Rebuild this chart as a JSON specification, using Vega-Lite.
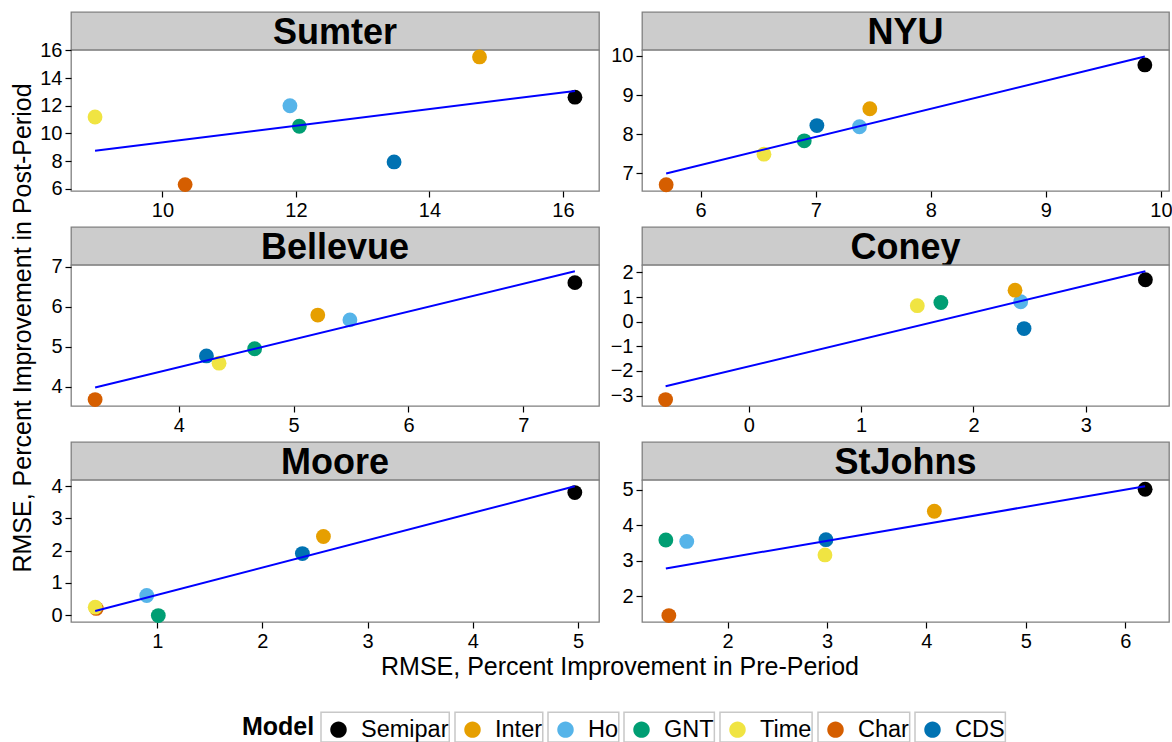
{
  "$schema": "https://vega.github.io/schema/vega-lite/v6.json",
  "background": "white",
  "padding": {"left": 10, "top": 11, "right": 2, "bottom": 0},
  "datasets": {
    "sites": [
      {"site": "Sumter"}, {"site": "NYU"}, {"site": "Bellevue"},
      {"site": "Coney"}, {"site": "Moore"}, {"site": "StJohns"}
    ],
    "titles": [
      {"axis": "y", "label": "RMSE, Percent Improvement in Post-Period"},
      {"axis": "x", "label": "RMSE, Percent Improvement in Pre-Period"}
    ],
    "scores": [
      {"site": "Sumter", "model": "CDS", "pre": 13.47, "post": 7.95},
      {"site": "Sumter", "model": "Char", "pre": 10.34, "post": 6.31},
      {"site": "Sumter", "model": "GNT", "pre": 12.05, "post": 10.52},
      {"site": "Sumter", "model": "Ho", "pre": 11.91, "post": 12.0},
      {"site": "Sumter", "model": "Inter", "pre": 14.75, "post": 15.52},
      {"site": "Sumter", "model": "Semipar", "pre": 16.18, "post": 12.62},
      {"site": "Sumter", "model": "Time", "pre": 8.99, "post": 11.19},
      {"site": "NYU", "model": "CDS", "pre": 7.01, "post": 8.22},
      {"site": "NYU", "model": "Char", "pre": 5.7, "post": 6.71},
      {"site": "NYU", "model": "GNT", "pre": 6.9, "post": 7.83},
      {"site": "NYU", "model": "Ho", "pre": 7.38, "post": 8.19},
      {"site": "NYU", "model": "Inter", "pre": 7.47, "post": 8.65},
      {"site": "NYU", "model": "Semipar", "pre": 9.86, "post": 9.77},
      {"site": "NYU", "model": "Time", "pre": 6.55, "post": 7.49},
      {"site": "Bellevue", "model": "CDS", "pre": 4.24, "post": 4.77},
      {"site": "Bellevue", "model": "Char", "pre": 3.27, "post": 3.68},
      {"site": "Bellevue", "model": "GNT", "pre": 4.66, "post": 4.95},
      {"site": "Bellevue", "model": "Ho", "pre": 5.49, "post": 5.67},
      {"site": "Bellevue", "model": "Inter", "pre": 5.21, "post": 5.79},
      {"site": "Bellevue", "model": "Semipar", "pre": 7.45, "post": 6.6},
      {"site": "Bellevue", "model": "Time", "pre": 4.35, "post": 4.59},
      {"site": "Coney", "model": "CDS", "pre": 2.45, "post": -0.28},
      {"site": "Coney", "model": "Char", "pre": -0.74, "post": -3.16},
      {"site": "Coney", "model": "GNT", "pre": 1.71, "post": 0.78},
      {"site": "Coney", "model": "Ho", "pre": 2.42, "post": 0.81},
      {"site": "Coney", "model": "Inter", "pre": 2.37, "post": 1.28},
      {"site": "Coney", "model": "Semipar", "pre": 3.53, "post": 1.7},
      {"site": "Coney", "model": "Time", "pre": 1.5, "post": 0.65},
      {"site": "Moore", "model": "CDS", "pre": 2.38, "post": 1.91},
      {"site": "Moore", "model": "Char", "pre": 0.42, "post": 0.21},
      {"site": "Moore", "model": "GNT", "pre": 1.01, "post": -0.01},
      {"site": "Moore", "model": "Ho", "pre": 0.9, "post": 0.61},
      {"site": "Moore", "model": "Inter", "pre": 2.58, "post": 2.44},
      {"site": "Moore", "model": "Semipar", "pre": 4.97, "post": 3.8},
      {"site": "Moore", "model": "Time", "pre": 0.41, "post": 0.25},
      {"site": "StJohns", "model": "CDS", "pre": 2.99, "post": 3.6},
      {"site": "StJohns", "model": "Char", "pre": 1.41, "post": 1.46},
      {"site": "StJohns", "model": "GNT", "pre": 1.38, "post": 3.59},
      {"site": "StJohns", "model": "Ho", "pre": 1.59, "post": 3.55},
      {"site": "StJohns", "model": "Inter", "pre": 4.08, "post": 4.4},
      {"site": "StJohns", "model": "Semipar", "pre": 6.2, "post": 5.02},
      {"site": "StJohns", "model": "Time", "pre": 2.98, "post": 3.17}
    ]
  },
  "config": {
    "font": "Liberation Sans",
    "axis": {
      "labelFont": "Liberation Sans", "labelFontSize": 20, "labelColor": "#000000",
      "tickColor": "#000000", "tickSize": 6, "tickWidth": 1.2, "labelPadding": 3,
      "domain": false, "grid": false, "title": null
    }
  },
  "spacing": 2,
  "hconcat": [
    {
      "width": 24, "height": 632,
      "view": {"stroke": null},
      "data": {"name": "titles"},
      "transform": [{"filter": "datum.axis === 'y'"}],
      "mark": {"type": "text", "font": "Liberation Sans", "fontSize": 25, "color": "#000000", "angle": 270, "baseline": "middle", "align": "center"},
      "encoding": {"text": {"field": "label", "type": "nominal"}}
    },
    {
      "spacing": 0,
      "vconcat": [
        {
          "columns": 2,
          "spacing": {"row": 5, "column": 9},
          "concat": [
            {
              "spacing": 0,
              "bounds": "flush",
              "vconcat": [
                {
                  "width": 528, "height": 38,
                  "view": {"fill": "#CCCCCC", "stroke": "#7F7F7F", "strokeWidth": 1.3},
                  "data": {"name": "sites"},
                  "transform": [{"filter": "datum.site === 'Sumter'"}],
                  "mark": {"type": "text", "font": "Liberation Sans", "fontSize": 36, "fontWeight": "bold", "color": "#000000", "baseline": "middle", "dy": 2},
                  "encoding": {"text": {"field": "site", "type": "nominal"}}
                },
                {
                  "width": 528, "height": 141,
                  "view": {"fill": "white", "stroke": "#7F7F7F", "strokeWidth": 1.3},
                  "data": {"name": "scores"},
                  "transform": [{"filter": "datum.site === 'Sumter'"}],
                  "encoding": {
                    "x": {"field": "pre", "type": "quantitative", "scale": {"domain": [8.63, 16.54], "nice": false, "zero": false}, "axis": {"values": [10, 12, 14, 16]}},
                    "y": {"field": "post", "type": "quantitative", "scale": {"domain": [5.85, 16.02], "nice": false, "zero": false}, "axis": {"values": [6, 8, 10, 12, 14, 16]}}
                  },
                  "layer": [
                    {
                      "mark": {"type": "circle", "size": 220, "opacity": 1},
                      "encoding": {
                        "color": {
                          "field": "model", "type": "nominal",
                          "scale": {"domain": ["Semipar", "Inter", "Ho", "GNT", "Time", "Char", "CDS"], "range": ["#000000", "#E69F00", "#56B4E9", "#009E73", "#F0E442", "#D55E00", "#0072B2"]},
                          "legend": {
                            "title": "Model", "orient": "none", "legendX": 231, "legendY": 700, "direction": "horizontal",
                            "titleOrient": "left", "titleFont": "Liberation Sans", "titleFontSize": 25, "titleFontWeight": "bold", "titleColor": "#000000", "titlePadding": 6, "titleBaseline": "middle",
                            "symbolType": "M-0.47,0A0.47,0.47,0,1,0,0.47,0A0.47,0.47,0,1,0,-0.47,0Z",
                            "symbolSize": 1225, "symbolStrokeWidth": 0, "symbolOpacity": 1,
                            "labelFont": "Liberation Sans", "labelFontSize": 23.5, "labelColor": "#000000", "labelOffset": 5, "columnPadding": 5, "labelLimit": 300,
                            "encode": {"entries": {"update": {"width": {"value": 35}, "height": {"value": 35}, "stroke": {"value": "#C8C8C8"}, "strokeWidth": {"value": 1.5}}}}
                          }
                        }
                      }
                    },
                    {
                      "transform": [{"regression": "post", "on": "pre"}],
                      "mark": {"type": "line", "color": "#0000FF", "strokeWidth": 2},
                      "encoding": {}
                    }
                  ]
                }
              ]
            },
            {
              "spacing": 0,
              "bounds": "flush",
              "vconcat": [
                {
                  "width": 527, "height": 38,
                  "view": {"fill": "#CCCCCC", "stroke": "#7F7F7F", "strokeWidth": 1.3},
                  "data": {"name": "sites"},
                  "transform": [{"filter": "datum.site === 'NYU'"}],
                  "mark": {"type": "text", "font": "Liberation Sans", "fontSize": 36, "fontWeight": "bold", "color": "#000000", "baseline": "middle", "dy": 2},
                  "encoding": {"text": {"field": "site", "type": "nominal"}}
                },
                {
                  "width": 527, "height": 141,
                  "view": {"fill": "white", "stroke": "#7F7F7F", "strokeWidth": 1.3},
                  "data": {"name": "scores"},
                  "transform": [{"filter": "datum.site === 'NYU'"}],
                  "encoding": {
                    "x": {"field": "pre", "type": "quantitative", "scale": {"domain": [5.49, 10.07], "nice": false, "zero": false}, "axis": {"values": [6, 7, 8, 9, 10]}},
                    "y": {"field": "post", "type": "quantitative", "scale": {"domain": [6.55, 10.15], "nice": false, "zero": false}, "axis": {"values": [7, 8, 9, 10]}}
                  },
                  "layer": [
                    {
                      "mark": {"type": "circle", "size": 220, "opacity": 1},
                      "encoding": {
                        "color": {
                          "field": "model", "type": "nominal",
                          "scale": {"domain": ["Semipar", "Inter", "Ho", "GNT", "Time", "Char", "CDS"], "range": ["#000000", "#E69F00", "#56B4E9", "#009E73", "#F0E442", "#D55E00", "#0072B2"]}
                        }
                      }
                    },
                    {
                      "transform": [{"regression": "post", "on": "pre"}],
                      "mark": {"type": "line", "color": "#0000FF", "strokeWidth": 2},
                      "encoding": {}
                    }
                  ]
                }
              ]
            },
            {
              "spacing": 0,
              "bounds": "flush",
              "vconcat": [
                {
                  "width": 528, "height": 38,
                  "view": {"fill": "#CCCCCC", "stroke": "#7F7F7F", "strokeWidth": 1.3},
                  "data": {"name": "sites"},
                  "transform": [{"filter": "datum.site === 'Bellevue'"}],
                  "mark": {"type": "text", "font": "Liberation Sans", "fontSize": 36, "fontWeight": "bold", "color": "#000000", "baseline": "middle", "dy": 2},
                  "encoding": {"text": {"field": "site", "type": "nominal"}}
                },
                {
                  "width": 528, "height": 141,
                  "view": {"fill": "white", "stroke": "#7F7F7F", "strokeWidth": 1.3},
                  "data": {"name": "scores"},
                  "transform": [{"filter": "datum.site === 'Bellevue'"}],
                  "encoding": {
                    "x": {"field": "pre", "type": "quantitative", "scale": {"domain": [3.06, 7.66], "nice": false, "zero": false}, "axis": {"values": [4, 5, 6, 7]}},
                    "y": {"field": "post", "type": "quantitative", "scale": {"domain": [3.52, 7.04], "nice": false, "zero": false}, "axis": {"values": [4, 5, 6, 7]}}
                  },
                  "layer": [
                    {
                      "mark": {"type": "circle", "size": 220, "opacity": 1},
                      "encoding": {
                        "color": {
                          "field": "model", "type": "nominal",
                          "scale": {"domain": ["Semipar", "Inter", "Ho", "GNT", "Time", "Char", "CDS"], "range": ["#000000", "#E69F00", "#56B4E9", "#009E73", "#F0E442", "#D55E00", "#0072B2"]}
                        }
                      }
                    },
                    {
                      "transform": [{"regression": "post", "on": "pre"}],
                      "mark": {"type": "line", "color": "#0000FF", "strokeWidth": 2},
                      "encoding": {}
                    }
                  ]
                }
              ]
            },
            {
              "spacing": 0,
              "bounds": "flush",
              "vconcat": [
                {
                  "width": 527, "height": 38,
                  "view": {"fill": "#CCCCCC", "stroke": "#7F7F7F", "strokeWidth": 1.3},
                  "data": {"name": "sites"},
                  "transform": [{"filter": "datum.site === 'Coney'"}],
                  "mark": {"type": "text", "font": "Liberation Sans", "fontSize": 36, "fontWeight": "bold", "color": "#000000", "baseline": "middle", "dy": 2},
                  "encoding": {"text": {"field": "site", "type": "nominal"}}
                },
                {
                  "width": 527, "height": 141,
                  "view": {"fill": "white", "stroke": "#7F7F7F", "strokeWidth": 1.3},
                  "data": {"name": "scores"},
                  "transform": [{"filter": "datum.site === 'Coney'"}],
                  "encoding": {
                    "x": {"field": "pre", "type": "quantitative", "scale": {"domain": [-0.95, 3.74], "nice": false, "zero": false}, "axis": {"values": [0, 1, 2, 3]}},
                    "y": {"field": "post", "type": "quantitative", "scale": {"domain": [-3.42, 2.3], "nice": false, "zero": false}, "axis": {"values": [-3, -2, -1, 0, 1, 2]}}
                  },
                  "layer": [
                    {
                      "mark": {"type": "circle", "size": 220, "opacity": 1},
                      "encoding": {
                        "color": {
                          "field": "model", "type": "nominal",
                          "scale": {"domain": ["Semipar", "Inter", "Ho", "GNT", "Time", "Char", "CDS"], "range": ["#000000", "#E69F00", "#56B4E9", "#009E73", "#F0E442", "#D55E00", "#0072B2"]}
                        }
                      }
                    },
                    {
                      "transform": [{"regression": "post", "on": "pre"}],
                      "mark": {"type": "line", "color": "#0000FF", "strokeWidth": 2},
                      "encoding": {}
                    }
                  ]
                }
              ]
            },
            {
              "spacing": 0,
              "bounds": "flush",
              "vconcat": [
                {
                  "width": 528, "height": 38,
                  "view": {"fill": "#CCCCCC", "stroke": "#7F7F7F", "strokeWidth": 1.3},
                  "data": {"name": "sites"},
                  "transform": [{"filter": "datum.site === 'Moore'"}],
                  "mark": {"type": "text", "font": "Liberation Sans", "fontSize": 36, "fontWeight": "bold", "color": "#000000", "baseline": "middle", "dy": 2},
                  "encoding": {"text": {"field": "site", "type": "nominal"}}
                },
                {
                  "width": 528, "height": 142,
                  "view": {"fill": "white", "stroke": "#7F7F7F", "strokeWidth": 1.3},
                  "data": {"name": "scores"},
                  "transform": [{"filter": "datum.site === 'Moore'"}],
                  "encoding": {
                    "x": {"field": "pre", "type": "quantitative", "scale": {"domain": [0.18, 5.2], "nice": false, "zero": false}, "axis": {"values": [1, 2, 3, 4, 5]}},
                    "y": {"field": "post", "type": "quantitative", "scale": {"domain": [-0.21, 4.19], "nice": false, "zero": false}, "axis": {"values": [0, 1, 2, 3, 4]}}
                  },
                  "layer": [
                    {
                      "mark": {"type": "circle", "size": 220, "opacity": 1},
                      "encoding": {
                        "color": {
                          "field": "model", "type": "nominal",
                          "scale": {"domain": ["Semipar", "Inter", "Ho", "GNT", "Time", "Char", "CDS"], "range": ["#000000", "#E69F00", "#56B4E9", "#009E73", "#F0E442", "#D55E00", "#0072B2"]}
                        }
                      }
                    },
                    {
                      "transform": [{"regression": "post", "on": "pre"}],
                      "mark": {"type": "line", "color": "#0000FF", "strokeWidth": 2},
                      "encoding": {}
                    }
                  ]
                }
              ]
            },
            {
              "spacing": 0,
              "bounds": "flush",
              "vconcat": [
                {
                  "width": 527, "height": 38,
                  "view": {"fill": "#CCCCCC", "stroke": "#7F7F7F", "strokeWidth": 1.3},
                  "data": {"name": "sites"},
                  "transform": [{"filter": "datum.site === 'StJohns'"}],
                  "mark": {"type": "text", "font": "Liberation Sans", "fontSize": 36, "fontWeight": "bold", "color": "#000000", "baseline": "middle", "dy": 2},
                  "encoding": {"text": {"field": "site", "type": "nominal"}}
                },
                {
                  "width": 527, "height": 142,
                  "view": {"fill": "white", "stroke": "#7F7F7F", "strokeWidth": 1.3},
                  "data": {"name": "scores"},
                  "transform": [{"filter": "datum.site === 'StJohns'"}],
                  "encoding": {
                    "x": {"field": "pre", "type": "quantitative", "scale": {"domain": [1.14, 6.44], "nice": false, "zero": false}, "axis": {"values": [2, 3, 4, 5, 6]}},
                    "y": {"field": "post", "type": "quantitative", "scale": {"domain": [1.28, 5.28], "nice": false, "zero": false}, "axis": {"values": [2, 3, 4, 5]}}
                  },
                  "layer": [
                    {
                      "mark": {"type": "circle", "size": 220, "opacity": 1},
                      "encoding": {
                        "color": {
                          "field": "model", "type": "nominal",
                          "scale": {"domain": ["Semipar", "Inter", "Ho", "GNT", "Time", "Char", "CDS"], "range": ["#000000", "#E69F00", "#56B4E9", "#009E73", "#F0E442", "#D55E00", "#0072B2"]}
                        }
                      }
                    },
                    {
                      "transform": [{"regression": "post", "on": "pre"}],
                      "mark": {"type": "line", "color": "#0000FF", "strokeWidth": 2},
                      "encoding": {}
                    }
                  ]
                }
              ]
            }
          ]
        },
        {
          "width": 1098, "height": 30,
          "view": {"stroke": null},
          "data": {"name": "titles"},
          "transform": [{"filter": "datum.axis === 'x'"}],
          "mark": {"type": "text", "font": "Liberation Sans", "fontSize": 25, "color": "#000000", "baseline": "middle", "align": "center"},
          "encoding": {"text": {"field": "label", "type": "nominal"}}
        }
      ]
    }
  ]
}
